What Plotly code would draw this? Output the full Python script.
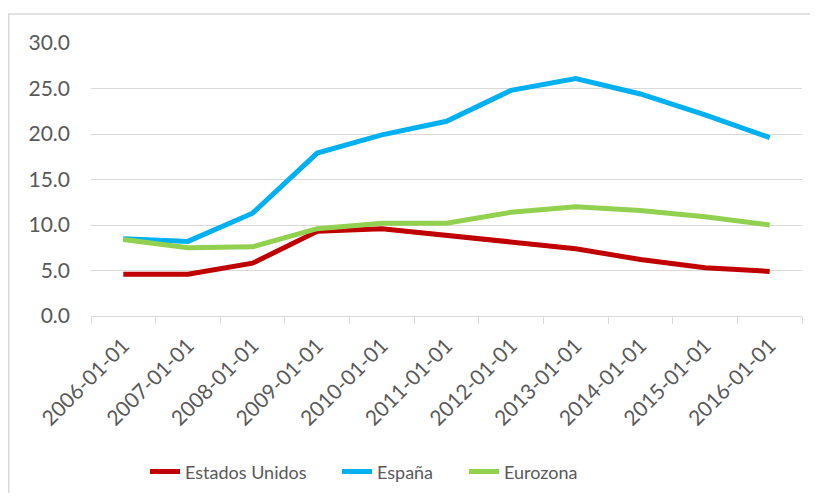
import plotly.graph_objects as go

categories = ["2006-01-01", "2007-01-01", "2008-01-01", "2009-01-01", "2010-01-01",
              "2011-01-01", "2012-01-01", "2013-01-01", "2014-01-01", "2015-01-01",
              "2016-01-01"]
estados_unidos = [4.6, 4.6, 5.8, 9.3, 9.6, 8.9, 8.1, 7.4, 6.2, 5.3, 4.9]
espana = [8.5, 8.2, 11.3, 17.9, 19.9, 21.4, 24.8, 26.1, 24.4, 22.1, 19.6]
eurozona = [8.4, 7.5, 7.6, 9.6, 10.2, 10.2, 11.4, 12.0, 11.6, 10.9, 10.0]
y_ticks = [0, 5, 10, 15, 20, 25, 30]

series = [
    ("Estados Unidos", estados_unidos, "#C00000", "legend"),
    ("España", espana, "#00B0F0", "legend2"),
    ("Eurozona", eurozona, "#92D050", "legend3"),
]

fig = go.Figure()
for name, vals, color, leg in series:
    fig.add_trace(go.Scatter(
        x=categories, y=vals, name=name, mode="lines",
        line=dict(color=color, width=5), legend=leg,
    ))

# page body has an 8px margin, so the figure is sized/offset accordingly
W, H = 802, 485
L, T, PW, PH = 83, 35, 711, 273
font_family = "Lato, Carlito, 'Open Sans', sans-serif"


def leg(xpx):
    return dict(orientation="h", x=(xpx - L) / PW, xanchor="left",
                y=-0.571, yanchor="middle",
                font=dict(size=18, color="#595959"))


fig.update_layout(
    width=W, height=H,
    margin=dict(l=L, r=W - L - PW, t=T, b=H - T - PH, autoexpand=False),
    paper_bgcolor="white", plot_bgcolor="white",
    font=dict(family=font_family, size=20, color="#595959"),
    showlegend=True,
    legend=leg(137),
    legend2=leg(329),
    legend3=leg(456),
    xaxis=dict(
        type="category", range=[-0.5, 10.5], automargin=False,
        tickson="boundaries", ticks="outside", ticklen=7, tickcolor="#D9D9D9",
        showline=True, linecolor="#D9D9D9", linewidth=1,
        showgrid=False, tickangle=-45, ticklabelstandoff=8,
        tickfont=dict(size=21, color="#595959"),
    ),
    yaxis=dict(
        range=[0, 30], tickvals=y_ticks, tickformat=".1f", automargin=False,
        showgrid=True, gridcolor="#D9D9D9", gridwidth=1,
        zeroline=False, showline=False, ticks="",
        ticklabelstandoff=20,
        tickfont=dict(size=21, color="#595959"),
    ),
    shapes=[
        dict(type="rect", xref="paper", yref="paper",
             x0=(0.8 - L) / PW, x1=(W + 20 - L) / PW,
             y0=(T + PH - (H + 20)) / PH, y1=(T + PH - 6) / PH,
             line=dict(color="#D9D9D9", width=1.5), fillcolor="rgba(0,0,0,0)",
             layer="below"),
    ],
)

fig.write_html("out.html")
